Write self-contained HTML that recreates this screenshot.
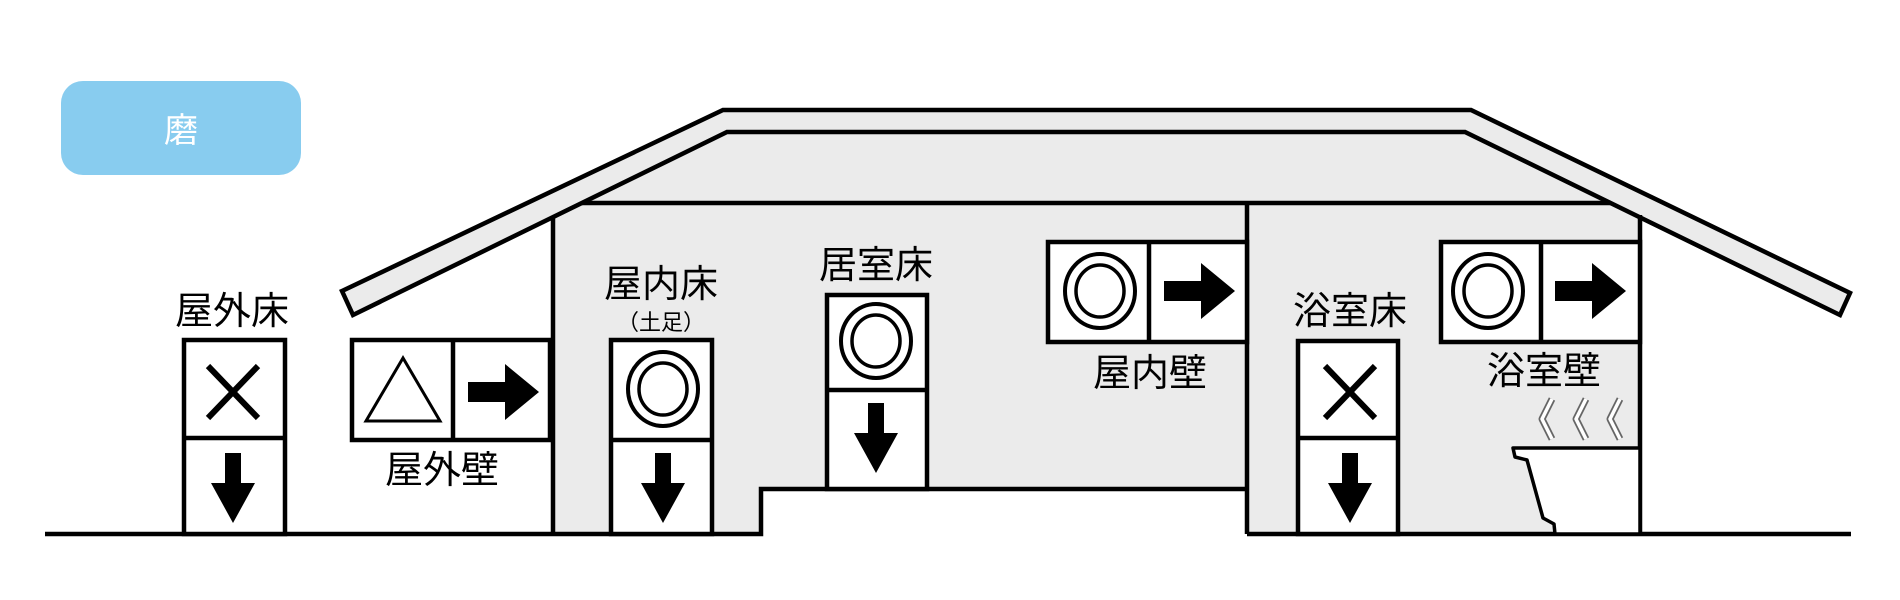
<!DOCTYPE html>
<html><head><meta charset="utf-8"><style>
html,body{margin:0;padding:0;background:#fff;}
svg{display:block;}
text{font-family:"Liberation Sans","Noto Sans CJK JP",sans-serif;}
</style></head><body>
<svg width="1900" height="600" viewBox="0 0 1900 600" xmlns="http://www.w3.org/2000/svg">
<defs>
<g id="da"><polygon points="-8,-35 8,-35 8,-5 22,-5 0,35 -22,-5 -8,-5" fill="#000"/></g>
<g id="ra"><polygon points="-35,-10 2,-10 2,-28 36,0 2,28 2,10 -35,10" fill="#000"/></g>
<g id="dc"><ellipse rx="35" ry="37" fill="#fff" stroke="#000" stroke-width="4"/><ellipse rx="24" ry="26" fill="none" stroke="#000" stroke-width="3.5"/></g>
<g id="xm"><line x1="-25" y1="-26" x2="25" y2="26" stroke="#000" stroke-width="6"/><line x1="25" y1="-26" x2="-25" y2="26" stroke="#000" stroke-width="6"/></g>
<g id="st"><polyline points="4,-20 -6,0 4,20" fill="none" stroke="#666" stroke-width="7" stroke-linejoin="round"/><polyline points="4,-20 -6,0 4,20" fill="none" stroke="#fff" stroke-width="3.5" stroke-linejoin="round"/></g>
</defs>
<rect x="61" y="81" width="240" height="94" rx="22" fill="#88ccef"/>
<text x="181" y="142" font-size="34" fill="#fff" text-anchor="middle">磨</text>
<polygon points="553,218 727,132 1465,132 1640,217 1640,534 1247,534 1247,489 761,489 761,534 553,534" fill="#ebebeb"/>
<polygon points="342,291 723,110 1471,110 1850,293 1840,315 1465,132 727,132 353,315" fill="#ebebeb" stroke="#000" stroke-width="4.5" stroke-linejoin="miter"/>
<line x1="582" y1="203" x2="1611" y2="203" stroke="#000" stroke-width="4.5"/>
<line x1="553" y1="217" x2="553" y2="534" stroke="#000" stroke-width="4.5"/>
<line x1="1640" y1="215" x2="1640" y2="534" stroke="#000" stroke-width="4.5"/>
<line x1="1247" y1="203" x2="1247" y2="534" stroke="#000" stroke-width="4.5"/>
<polyline points="45,534 761,534 761,489 1247,489" fill="none" stroke="#000" stroke-width="4.5"/>
<line x1="1247" y1="534" x2="1851" y2="534" stroke="#000" stroke-width="4.5"/>
<text x="232" y="324" font-size="38" text-anchor="middle">屋外床</text>
<rect x="184" y="340" width="101" height="194" fill="#fff" stroke="#000" stroke-width="4.5"/>
<line x1="184" y1="438" x2="285" y2="438" stroke="#000" stroke-width="4.5"/>
<use href="#xm" x="233" y="392"/><use href="#da" x="233" y="488"/>
<rect x="352" y="340" width="198" height="100" fill="#fff" stroke="#000" stroke-width="4.5"/>
<line x1="453" y1="340" x2="453" y2="440" stroke="#000" stroke-width="4.5"/>
<polygon points="403,358 366,421 440,421" fill="none" stroke="#000" stroke-width="3"/>
<use href="#ra" x="503" y="392"/>
<text x="442" y="483" font-size="38" text-anchor="middle">屋外壁</text>
<text x="661" y="297" font-size="38" text-anchor="middle">屋内床</text>
<text x="661" y="330" font-size="22" text-anchor="middle">（土足）</text>
<rect x="611" y="340" width="101" height="194" fill="#fff" stroke="#000" stroke-width="4.5"/>
<line x1="611" y1="440" x2="712" y2="440" stroke="#000" stroke-width="4.5"/>
<use href="#dc" x="663" y="389"/><use href="#da" x="663" y="488"/>
<text x="876" y="278" font-size="38" text-anchor="middle">居室床</text>
<rect x="827" y="295" width="100" height="194" fill="#fff" stroke="#000" stroke-width="4.5"/>
<line x1="827" y1="390" x2="927" y2="390" stroke="#000" stroke-width="4.5"/>
<use href="#dc" x="876" y="341"/><use href="#da" x="876" y="438"/>
<rect x="1048" y="242" width="199" height="100" fill="#fff" stroke="#000" stroke-width="4.5"/>
<line x1="1149" y1="242" x2="1149" y2="342" stroke="#000" stroke-width="4.5"/>
<use href="#dc" x="1100" y="291"/><use href="#ra" x="1199" y="291"/>
<text x="1150" y="386" font-size="38" text-anchor="middle">屋内壁</text>
<text x="1350" y="324" font-size="38" text-anchor="middle">浴室床</text>
<rect x="1298" y="341" width="100" height="193" fill="#fff" stroke="#000" stroke-width="4.5"/>
<line x1="1298" y1="438" x2="1398" y2="438" stroke="#000" stroke-width="4.5"/>
<use href="#xm" x="1350" y="392"/><use href="#da" x="1350" y="488"/>
<rect x="1441" y="242" width="199" height="100" fill="#fff" stroke="#000" stroke-width="4.5"/>
<line x1="1541" y1="242" x2="1541" y2="342" stroke="#000" stroke-width="4.5"/>
<use href="#dc" x="1488" y="291"/><use href="#ra" x="1590" y="291"/>
<text x="1544" y="384" font-size="38" text-anchor="middle">浴室壁</text>
<use href="#st" x="1548" y="419"/><use href="#st" x="1582" y="419"/><use href="#st" x="1616" y="419"/>
<polygon points="1513,448 1640,448 1640,534 1555,534 1554,524 1543,518 1527,460 1515,457" fill="#fff" stroke="#000" stroke-width="3.5" stroke-linejoin="round"/>
</svg>
</body></html>
